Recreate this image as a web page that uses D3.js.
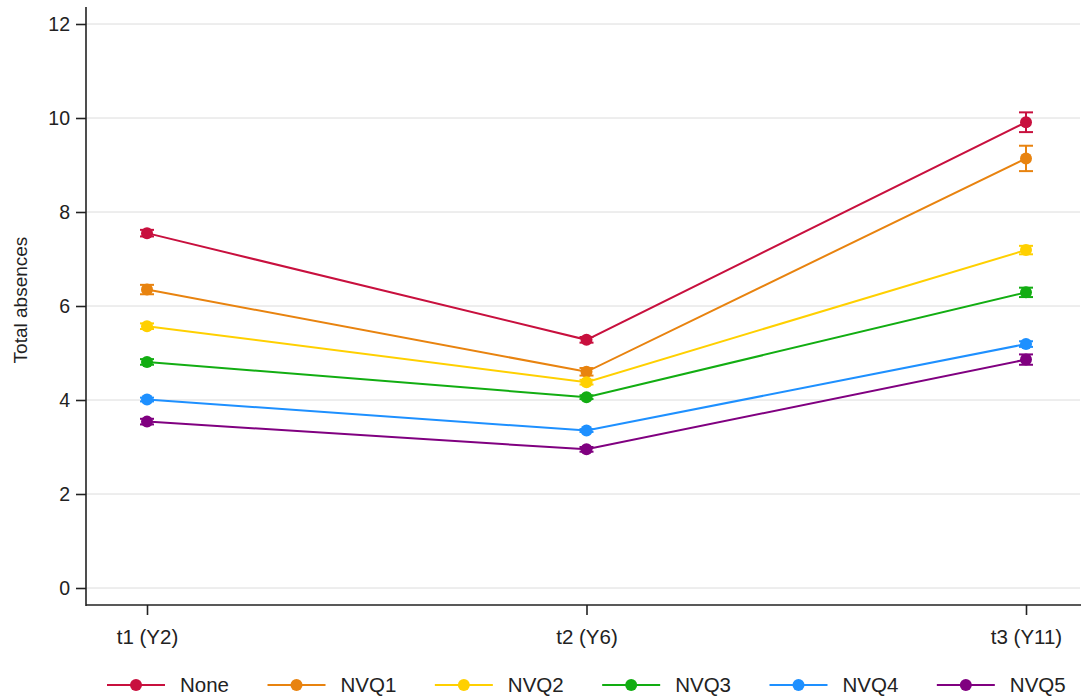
<!DOCTYPE html>
<html>
<head>
<meta charset="utf-8">
<script src="https://cdn.jsdelivr.net/npm/d3@7"></script>
<style>
  html, body { margin: 0; padding: 0; background: #fff; }
  svg { display: block; font-family: "Liberation Sans", Arial, sans-serif; }
</style>
</head>
<body>
<svg id="chart" width="1081" height="700"></svg>
<script>
// Time points and parental qualification groups
const timepoints = ["t1 (Y2)", "t2 (Y6)", "t3 (Y11)"];
const groups = ["None", "NVQ1", "NVQ2", "NVQ3", "NVQ4", "NVQ5"];
const colors = ["#c8103e", "#e8830f", "#ffd000", "#12ad12", "#1e90ff", "#800080"];

// Mean total absences per group at each time point
const meanNone = [7.55, 5.28, 9.91];
const meanNVQ1 = [6.35, 4.60, 9.14];
const meanNVQ2 = [5.57, 4.38, 7.19];
const meanNVQ3 = [4.81, 4.06, 6.29];
const meanNVQ4 = [4.01, 3.35, 5.19];
const meanNVQ5 = [3.54, 2.95, 4.86];

// Half-width of the 95% confidence intervals
const ciNone = [0.07, 0.06, 0.21];
const ciNVQ1 = [0.10, 0.08, 0.27];
const ciNVQ2 = [0.06, 0.05, 0.09];
const ciNVQ3 = [0.06, 0.04, 0.10];
const ciNVQ4 = [0.04, 0.03, 0.06];
const ciNVQ5 = [0.06, 0.05, 0.11];

const yTicks = [0, 2, 4, 6, 8, 10, 12];

const means = [meanNone, meanNVQ1, meanNVQ2, meanNVQ3, meanNVQ4, meanNVQ5];
const cis = [ciNone, ciNVQ1, ciNVQ2, ciNVQ3, ciNVQ4, ciNVQ5];
const series = groups.map((g, i) => ({
  name: g, color: colors[i],
  values: timepoints.map((t, j) => ({ t, m: means[i][j], ci: cis[i][j] }))
}));

const svg = d3.select("#chart");
const plot = { left: 86, right: 1081, top: 7, bottom: 605 };

const x = d3.scalePoint().domain(timepoints).range([147, 1026]);
const y = d3.scaleLinear().domain([0, 12]).range([588, 24]);

// Horizontal gridlines
svg.append("g").selectAll("line").data(yTicks).join("line")
  .attr("x1", plot.left).attr("x2", plot.right - 1)
  .attr("y1", d => y(d)).attr("y2", d => y(d))
  .attr("stroke", "#dcdcdc").attr("stroke-width", 1);

// Y axis
const yAxis = svg.append("g").attr("transform", `translate(${plot.left},0)`)
  .call(d3.axisLeft(y).tickValues(yTicks).tickSize(10).tickPadding(6).tickFormat(d3.format("d")));
yAxis.select(".domain").remove();
yAxis.append("line").attr("x1", 0).attr("x2", 0).attr("y1", plot.top).attr("y2", plot.bottom + 1)
  .attr("stroke", "#222").attr("stroke-width", 1.6);
yAxis.selectAll(".tick line").attr("stroke", "#222").attr("stroke-width", 1.6);
yAxis.selectAll(".tick text").attr("font-size", 19.5).attr("fill", "#222");

// X axis
const xAxis = svg.append("g").attr("transform", `translate(0,${plot.bottom})`)
  .call(d3.axisBottom(x).tickSize(10).tickPadding(14));
xAxis.select(".domain").remove();
xAxis.append("line").attr("x1", plot.left).attr("x2", plot.right).attr("y1", 0).attr("y2", 0)
  .attr("stroke", "#222").attr("stroke-width", 1.6);
xAxis.selectAll(".tick line").attr("stroke", "#222").attr("stroke-width", 1.6);
xAxis.selectAll(".tick text").attr("font-size", 20.5).attr("fill", "#222");

// Y axis title
svg.append("text")
  .attr("transform", `translate(27,300) rotate(-90)`)
  .attr("text-anchor", "middle")
  .attr("font-size", 19).attr("fill", "#222")
  .text("Total absences");

// Lines, error bars and markers
const line = d3.line().x(d => x(d.t)).y(d => y(d.m));
const gS = svg.append("g").selectAll("g").data(series).join("g");

gS.append("path")
  .attr("d", d => line(d.values))
  .attr("fill", "none").attr("stroke", d => d.color).attr("stroke-width", 2);

gS.each(function(s) {
  const g = d3.select(this);
  const eb = g.selectAll("g.eb").data(s.values).join("g").attr("class", "eb");
  eb.append("line")
    .attr("x1", d => x(d.t)).attr("x2", d => x(d.t))
    .attr("y1", d => y(d.m + d.ci)).attr("y2", d => y(d.m - d.ci))
    .attr("stroke", s.color).attr("stroke-width", 2);
  [1, -1].forEach(sign => {
    eb.append("line")
      .attr("x1", d => x(d.t) - 7).attr("x2", d => x(d.t) + 7)
      .attr("y1", d => y(d.m + sign * d.ci)).attr("y2", d => y(d.m + sign * d.ci))
      .attr("stroke", s.color).attr("stroke-width", 2);
  });
  g.selectAll("circle").data(s.values).join("circle")
    .attr("cx", d => x(d.t)).attr("cy", d => y(d.m)).attr("r", 6)
    .attr("fill", s.color);
});

// Legend: each key sits after the previous label plus a fixed gap
const legend = svg.append("g").attr("transform", "translate(107,685)");
const item = legend.selectAll("g").data(series).join("g");
item.append("line").attr("x1", 0).attr("x2", 58).attr("y1", 0).attr("y2", 0)
  .attr("stroke", d => d.color).attr("stroke-width", 2);
item.append("circle").attr("cx", 29).attr("cy", 0).attr("r", 6).attr("fill", d => d.color);
item.append("text").attr("x", 73).attr("y", 0).attr("dy", "0.35em")
  .attr("font-size", 20.5).attr("fill", "#222").text(d => d.name);
let offset = 0;
item.each(function() {
  const w = d3.select(this).select("text").node().getComputedTextLength();
  d3.select(this).attr("transform", `translate(${offset},0)`);
  offset += 73 + w + 38.5;
});
</script>
</body>
</html>
